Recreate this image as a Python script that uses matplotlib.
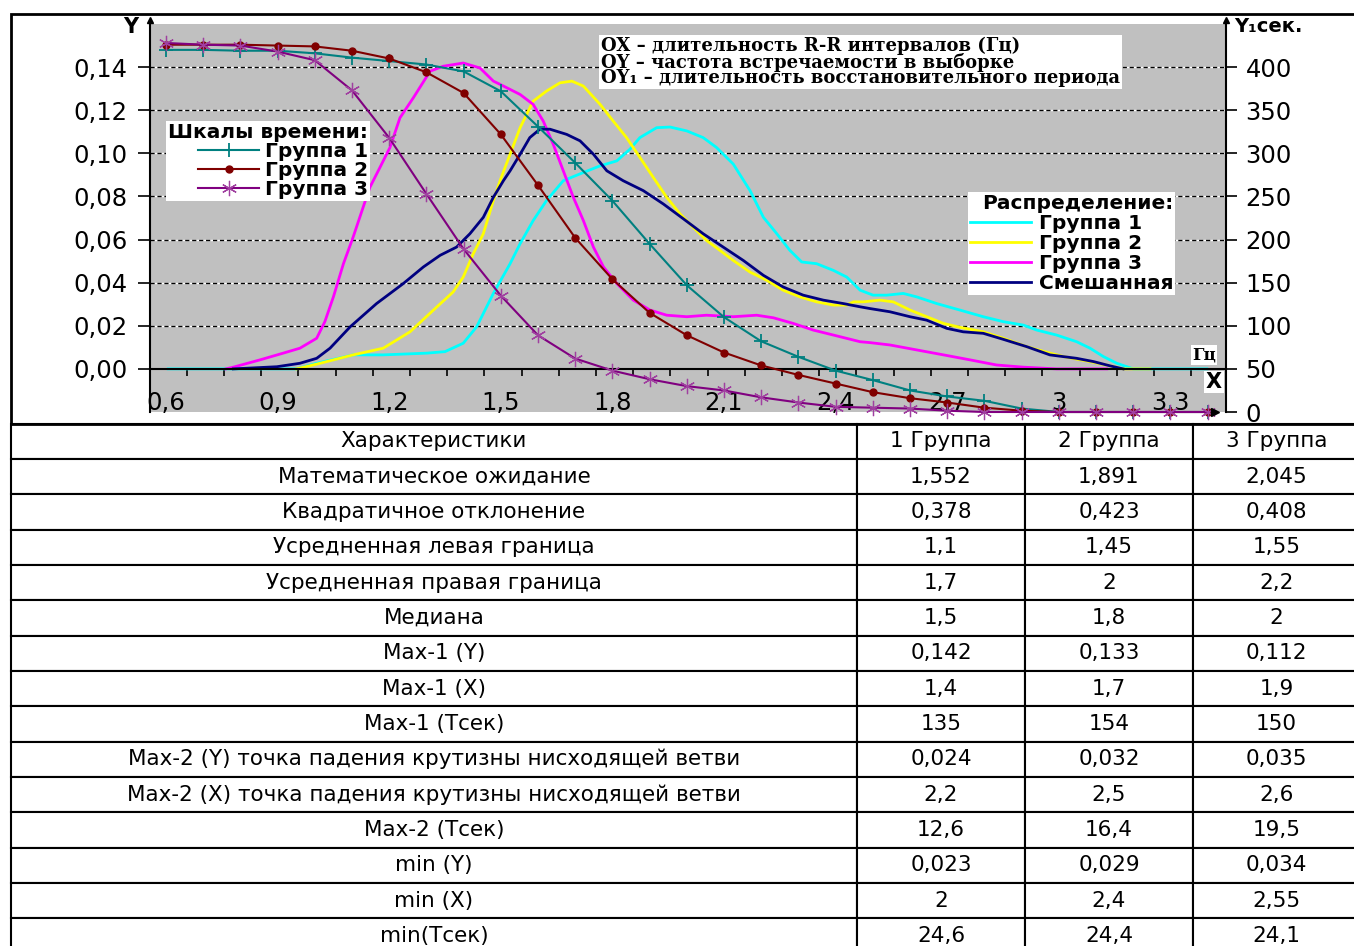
import matplotlib
matplotlib.use("Agg")
import matplotlib.pyplot as plt
from matplotlib.patches import Rectangle
from matplotlib.transforms import blended_transform_factory

W, H = 1354, 946

# шкалы времени (ось Y1, сек.)
time_x = [0.6, 0.7, 0.8, 0.9, 1.0, 1.1, 1.2, 1.3, 1.4, 1.5,
          1.6, 1.7, 1.8, 1.9, 2.0, 2.1, 2.2, 2.3, 2.4, 2.5,
          2.6, 2.7, 2.8, 2.9, 3.0, 3.1, 3.2, 3.3, 3.4]
time_g1 = [420, 420, 419, 419, 416, 411, 407, 403, 395, 372,
           331, 289, 245, 195, 147, 110, 82, 64, 48, 37,
           25, 18, 13, 4, 0, 0, 0, 0, 0]
time_g2 = [426, 426, 426, 425, 424, 419, 410, 394, 370, 322,
           263, 202, 154, 115, 89, 69, 54, 43, 33, 23,
           16, 11, 5, 1.5, 0, 0, 0, 0, 0]
time_g3 = [428, 426, 425, 418, 408, 373, 318, 253, 189, 135,
           89, 62, 48, 38, 30, 25, 17, 11, 6, 5,
           4, 1.5, 0, 0, 0, 0, 0, 0, 0]

# распределения (ось Y)
dist1_x = [0.606, 0.951, 1.005, 1.103, 1.184, 1.301, 1.350, 1.399, 1.435, 1.480,
           1.525, 1.552, 1.587, 1.623, 1.668, 1.722, 1.767, 1.812, 1.847, 1.874,
           1.919, 1.955, 2.000, 2.044, 2.080, 2.125, 2.170, 2.206, 2.242, 2.277,
           2.309, 2.349, 2.394, 2.430, 2.466, 2.501, 2.537, 2.582, 2.618, 2.672,
           2.734, 2.797, 2.851, 2.905, 2.941, 2.994, 3.048, 3.084, 3.120, 3.156,
           3.200, 3.398]
dist1_y = [0, 0, 0.0026, 0.0065, 0.0065, 0.0073, 0.008, 0.0119, 0.0195, 0.035,
           0.0488, 0.0581, 0.0688, 0.0781, 0.0873, 0.0911, 0.0942, 0.0965, 0.1019, 0.1073,
           0.1119, 0.1122, 0.1104, 0.1073, 0.1027, 0.095, 0.0827, 0.0703, 0.0627, 0.055,
           0.0496, 0.0488, 0.0457, 0.0426, 0.0365, 0.0342, 0.0342, 0.035, 0.0334, 0.0303,
           0.0273, 0.0242, 0.0219, 0.0203, 0.018, 0.0157, 0.0126, 0.0096, 0.0057, 0.0026,
           0, 0]

dist2_x = [0.951, 1.005, 1.103, 1.184, 1.256, 1.319, 1.372, 1.399, 1.426, 1.453,
           1.480, 1.498, 1.525, 1.552, 1.587, 1.623, 1.659, 1.691, 1.722, 1.767,
           1.802, 1.838, 1.874, 1.910, 1.946, 1.982, 2.017, 2.053, 2.089, 2.125,
           2.170, 2.215, 2.259, 2.304, 2.349, 2.394, 2.430, 2.448, 2.474, 2.519,
           2.555, 2.600, 2.645, 2.690, 2.734, 2.797, 2.851, 2.914, 2.976, 3.021,
           3.084, 3.138, 3.173, 3.245]
dist2_y = [0, 0.0022, 0.0065, 0.0096, 0.0172, 0.0273, 0.0357, 0.0426, 0.0534, 0.0627,
           0.0781, 0.0873, 0.0996, 0.1119, 0.1242, 0.1289, 0.1327, 0.1335, 0.1312, 0.1227,
           0.115, 0.1073, 0.0981, 0.0888, 0.0796, 0.0719, 0.0657, 0.0596, 0.055, 0.0503,
           0.0449, 0.0411, 0.0365, 0.0334, 0.0311, 0.0296, 0.0296, 0.0311, 0.0311, 0.0319,
           0.0311, 0.0273, 0.0242, 0.0211, 0.0193, 0.0172, 0.0142, 0.0103, 0.0073, 0.0054,
           0.0034, 0.0014, 0, 0]

dist3_x = [0.761, 0.781, 0.853, 0.915, 0.960, 1.005, 1.027, 1.050, 1.077, 1.103,
           1.130, 1.148, 1.175, 1.202, 1.229, 1.265, 1.310, 1.345, 1.399, 1.444,
           1.480, 1.498, 1.552, 1.587, 1.614, 1.641, 1.668, 1.695, 1.722, 1.749,
           1.776, 1.812, 1.856, 1.901, 1.946, 2.000, 2.053, 2.125, 2.188, 2.233,
           2.286, 2.340, 2.394, 2.466, 2.492, 2.546, 2.618, 2.690, 2.761, 2.833,
           2.905, 2.994, 3.129]
dist3_y = [0, 0.0008, 0.0042, 0.0073, 0.0096, 0.0142, 0.0219, 0.0334, 0.0488, 0.0611,
           0.075, 0.0842, 0.0934, 0.1027, 0.1165, 0.1258, 0.1381, 0.1404, 0.1419, 0.1396,
           0.1335, 0.132, 0.1273, 0.1227, 0.115, 0.1042, 0.0919, 0.0796, 0.0688, 0.0565,
           0.0473, 0.0396, 0.0319, 0.0273, 0.0249, 0.0242, 0.0249, 0.0242, 0.0249, 0.0237,
           0.0211, 0.018, 0.0157, 0.0126, 0.0122, 0.0111, 0.0088, 0.0065, 0.0042, 0.0018,
           0.0008, 0, 0]

mixed_x = [0.781, 0.898, 0.960, 1.005, 1.041, 1.095, 1.166, 1.238, 1.292, 1.337,
           1.381, 1.417, 1.453, 1.480, 1.507, 1.525, 1.552, 1.578, 1.605, 1.632,
           1.677, 1.713, 1.749, 1.785, 1.829, 1.883, 1.937, 1.991, 2.044, 2.098,
           2.152, 2.206, 2.259, 2.313, 2.367, 2.421, 2.466, 2.492, 2.546, 2.600,
           2.645, 2.699, 2.743, 2.797, 2.851, 2.914, 2.976, 3.048, 3.093, 3.138,
           3.173]
mixed_y = [0, 0.001, 0.0026, 0.0049, 0.0096, 0.0195, 0.0303, 0.0396, 0.0473, 0.0527,
           0.0565, 0.0627, 0.0703, 0.0796, 0.0873, 0.0919, 0.0996, 0.1073, 0.1112, 0.1112,
           0.1088, 0.1058, 0.0996, 0.0919, 0.0873, 0.0827, 0.0765, 0.0696, 0.0627, 0.0565,
           0.0503, 0.0434, 0.038, 0.0342, 0.0319, 0.0303, 0.0288, 0.028, 0.0265, 0.0242,
           0.0226, 0.0188, 0.0172, 0.0165, 0.0137, 0.0103, 0.0065, 0.0049, 0.0034, 0.0014,
           0]

y_ticks = [0.00, 0.02, 0.04, 0.06, 0.08, 0.10, 0.12, 0.14]
y_labels = ["0,00", "0,02", "0,04", "0,06", "0,08", "0,10", "0,12", "0,14"]
y1_ticks = [0, 50, 100, 150, 200, 250, 300, 350, 400]
x_label_pos = [0.6, 0.9, 1.2, 1.5, 1.8, 2.1, 2.4, 2.7, 3.0, 3.3]
x_labels = ["0,6", "0,9", "1,2", "1,5", "1,8", "2,1", "2,4", "2,7", "3", "3,3"]
x_minor_ticks = [0.656 + 0.1 * k for k in range(28)]

# таблица характеристик
tab_header = ["Характеристики", "1 Группа", "2 Группа", "3 Группа"]
tab_names = ["Математическое ожидание", "Квадратичное отклонение",
             "Усредненная левая граница", "Усредненная правая граница",
             "Медиана", "Max-1 (Y)", "Max-1 (X)", "Max-1 (Тсек)",
             "Max-2 (Y) точка падения крутизны нисходящей ветви",
             "Max-2 (X) точка падения крутизны нисходящей ветви",
             "Max-2 (Тсек)", "min (Y)", "min (X)", "min(Тсек)"]
tab_g1 = ["1,552", "0,378", "1,1", "1,7", "1,5", "0,142", "1,4", "135",
          "0,024", "2,2", "12,6", "0,023", "2", "24,6"]
tab_g2 = ["1,891", "0,423", "1,45", "2", "1,8", "0,133", "1,7", "154",
          "0,032", "2,5", "16,4", "0,029", "2,4", "24,4"]
tab_g3 = ["2,045", "0,408", "1,55", "2,2", "2", "0,112", "1,9", "150",
          "0,035", "2,6", "19,5", "0,034", "2,55", "24,1"]

plt.rcParams["font.family"] = ["DejaVu Sans"]

fig = plt.figure(figsize=(W / 100, H / 100), dpi=100)
fig.patch.set_facecolor("white")

# рамка диаграммы
fig.add_artist(Rectangle((11 / W, 1 - 424 / H), 1350 / W, 410 / H, fill=False,
                         lw=2, ec="black", transform=fig.transFigure))

ax = fig.add_axes([150 / W, 1 - 412 / H, 1076 / W, 388 / H])
ax.set_facecolor("#C0C0C0")
ax.set_xlim(0.557, 3.4495)
ax.set_ylim(-0.02, 0.16)

for y in y_ticks[1:]:
    ax.axhline(y, color="white", lw=1.0, zorder=0.5)
    ax.axhline(y, color="black", lw=1.0, ls=(0, (3, 2)), zorder=0.6)

ax.plot(dist1_x, dist1_y, color="#00FFFF", lw=2, label="Группа 1")
ax.plot(dist2_x, dist2_y, color="#FFFF00", lw=2, label="Группа 2")
ax.plot(dist3_x, dist3_y, color="#FF00FF", lw=2, label="Группа 3")
ax.plot(mixed_x, mixed_y, color="#000080", lw=2, label="Смешанная")

for s in ["top", "right"]:
    ax.spines[s].set_visible(False)
ax.spines["bottom"].set_position(("data", 0))
ax.spines["left"].set_linewidth(1.5)
ax.spines["bottom"].set_linewidth(1.5)
ax.set_yticks(y_ticks)
ax.set_yticklabels(y_labels)
ax.tick_params(axis="y", direction="out", length=9, width=1.2, pad=7, labelsize=17.5)
ax.set_xticks(x_minor_ticks)
ax.tick_params(axis="x", direction="out", length=5, width=1.2, labelbottom=False)

trans = blended_transform_factory(ax.transData, ax.transAxes)
for xp, lab in zip(x_label_pos, x_labels):
    ax.text(xp, 0.006, lab, transform=trans, ha="center", va="baseline", fontsize=17.5)

leg2 = ax.legend(loc="upper left", bbox_to_anchor=(958 / W, 1 - 182 / H),
                 bbox_transform=fig.transFigure, title="Распределение:",
                 alignment="right", frameon=True, fancybox=False, framealpha=1,
                 facecolor="white", edgecolor="none", borderpad=0.1,
                 handlelength=3.0, handletextpad=0.4, labelspacing=0.05,
                 prop={"weight": "bold", "size": 14.5},
                 title_fontproperties={"weight": "bold", "size": 14.5})

# шкалы времени на правой оси
ax2 = ax.twinx()
ax2.set_ylim(0, 450)
ax2.plot(time_x, time_g1, color="#008080", lw=1.5, marker="+", ms=10, mew=1.3,
         clip_on=False, label="Группа 1")
ax2.plot(time_x, time_g2, color="#800000", lw=1.5, marker="o", ms=5,
         clip_on=False, label="Группа 2")
ax2.plot(time_x, time_g3, color="#800080", lw=1.5, marker=(6, 2, 0), ms=11, mew=0.9,
         mec="#A040A0", clip_on=False, label="Группа 3")
for s in ["top", "left", "bottom"]:
    ax2.spines[s].set_visible(False)
ax2.spines["right"].set_linewidth(1.5)
ax2.set_yticks(y1_ticks)
ax2.set_yticklabels([str(v) for v in y1_ticks])
ax2.tick_params(axis="y", direction="out", length=8, width=1.2, pad=6, labelsize=17.5)

leg1 = ax2.legend(loc="upper left", bbox_to_anchor=(156 / W, 1 - 111 / H),
                  bbox_transform=fig.transFigure, title="Шкалы времени:",
                  alignment="right", frameon=True, fancybox=False, framealpha=1,
                  facecolor="white", edgecolor="none", borderpad=0.1,
                  handlelength=3.0, handletextpad=0.3, labelspacing=0.0,
                  prop={"weight": "bold", "size": 14.5},
                  title_fontproperties={"weight": "bold", "size": 14.5})

# стрелки осей
ax.plot([0], [1.01], marker="^", ms=5, color="black", transform=ax.transAxes, clip_on=False)
ax2.plot([1], [1.01], marker="^", ms=5, color="black", transform=ax2.transAxes, clip_on=False)
ax2.plot([0.99], [0], marker=">", ms=6, color="black", transform=ax2.transAxes, clip_on=False)

fig.text(131 / W, 1 - 27 / H, "Y", ha="center", va="center", fontsize=15, weight="bold")
fig.text(1234 / W, 1 - 27 / H, "Y₁сек.", ha="left", va="center", fontsize=14, weight="bold")
fig.text(601 / W, 1 - 62 / H,
         "OX – длительность R-R интервалов (Гц)\n"
         "OY – частота встречаемости в выборке\n"
         "OY₁ – длительность восстановительного периода",
         ha="left", va="center", family="DejaVu Serif", weight="bold", fontsize=13,
         linespacing=0.82, bbox=dict(fc="white", ec="none", pad=1.5))
fig.text(1204 / W, 1 - 355 / H, "Гц", ha="center", va="center", family="DejaVu Serif",
         weight="bold", fontsize=12, bbox=dict(fc="white", ec="none", pad=1))
fig.text(1214 / W, 1 - 382 / H, "X", ha="center", va="center", fontsize=15,
         weight="bold", bbox=dict(fc="white", ec="none", pad=1))

# таблица
tab_ax = fig.add_axes([11 / W, 1 - 953.5 / H, 1349 / W, 530 / H])
tab_ax.axis("off")
rows = [list(r) for r in zip(tab_names, tab_g1, tab_g2, tab_g3)]
table = tab_ax.table(cellText=rows, colLabels=tab_header, cellLoc="center",
                     colWidths=[846, 168, 168, 167], bbox=[0, 0, 1, 1])
table.auto_set_font_size(False)
table.set_fontsize(15.5)
for cell in table.get_celld().values():
    cell.set_linewidth(1.5)
    cell.set_edgecolor("black")

fig.savefig("out.png", dpi=100)
